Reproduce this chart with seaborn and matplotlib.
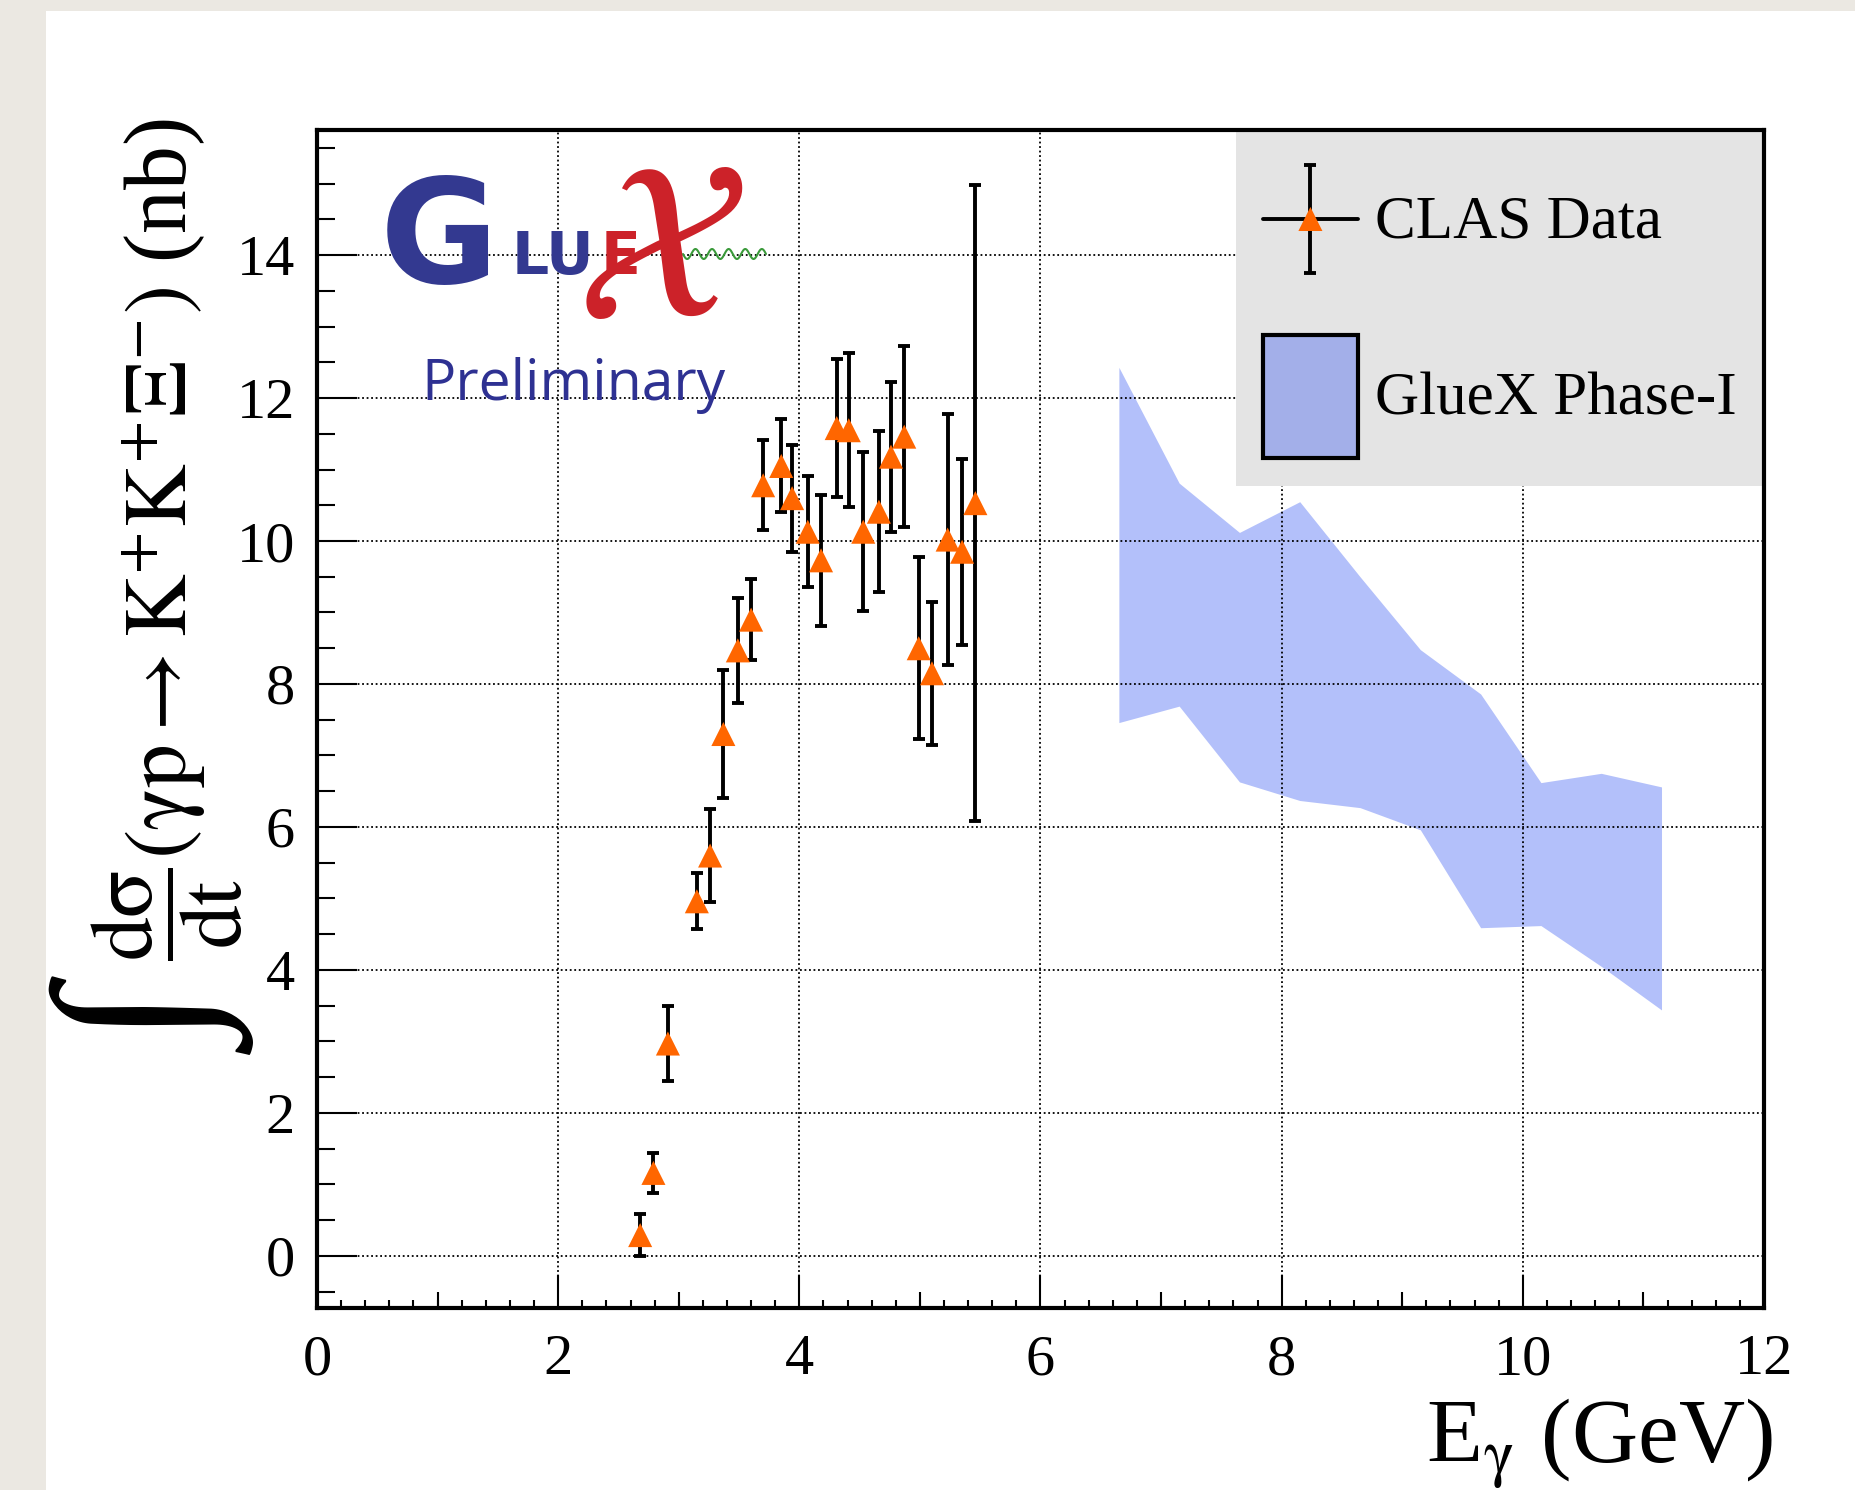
import numpy as np
import matplotlib
matplotlib.use("Agg")
import matplotlib.pyplot as plt
import seaborn as sns
from matplotlib.patches import Patch, Rectangle
from matplotlib.lines import Line2D
from matplotlib.ticker import MultipleLocator, FixedLocator
from matplotlib.container import ErrorbarContainer
from matplotlib.legend_handler import HandlerErrorbar, HandlerLine2D

# ---------------- data ----------------
clas_e = [2.68, 2.79, 2.91, 3.15, 3.26, 3.37, 3.49, 3.60, 3.70, 3.85, 3.94, 4.07,
          4.18, 4.31, 4.41, 4.53, 4.66, 4.76, 4.87, 4.99, 5.10, 5.23, 5.35, 5.46]
clas_xsec = [0.29, 1.16, 2.97, 4.96, 5.60, 7.30, 8.47, 8.90, 10.78, 11.05, 10.60, 10.13,
             9.73, 11.58, 11.55, 10.13, 10.41, 11.18, 11.46, 8.50, 8.15, 10.02, 9.85, 10.53]
clas_err = [0.29, 0.28, 0.52, 0.39, 0.65, 0.89, 0.73, 0.57, 0.63, 0.65, 0.75, 0.78,
            0.92, 0.96, 1.08, 1.11, 1.13, 1.05, 1.27, 1.27, 1.00, 1.75, 1.30, 4.45]

gluex_e = [6.65, 7.15, 7.65, 8.15, 8.65, 9.15, 9.65, 10.15, 10.65, 11.15]
gluex_upper = [12.43, 10.81, 10.12, 10.55, 9.50, 8.48, 7.86, 6.62, 6.75, 6.56]
gluex_lower = [7.46, 7.69, 6.63, 6.37, 6.27, 5.96, 4.59, 4.62, 4.05, 3.44]

x_ticks = [0, 2, 4, 6, 8, 10, 12]
y_ticks = [0, 2, 4, 6, 8, 10, 12, 14]
legend_labels = ["CLAS Data", "GlueX Phase-I"]

# ---------------- style ----------------
sns.set_theme(style="ticks")
plt.rcParams["font.family"] = ["Liberation Serif", "DejaVu Serif"]
plt.rcParams["mathtext.fontset"] = "stix"
for k in ["text.color", "axes.labelcolor", "xtick.color", "ytick.color",
          "xtick.labelcolor", "ytick.labelcolor"]:
    plt.rcParams[k] = "black"

W, H = 1856, 1490
fig = plt.figure(figsize=(W / 100, H / 100), dpi=100, facecolor="#ebe8e2")
fig.patches.append(Rectangle((46 / W, 0), (1855 - 46) / W, 1 - 11 / H,
                             transform=fig.transFigure, facecolor="white",
                             edgecolor="none", zorder=-10))

def fx(px):
    return px / W

def fy(py):
    return 1 - py / H

ax = fig.add_axes([fx(317), fy(1308), (1764 - 317) / W, (1308 - 130) / H])
ax.set_facecolor("white")

# GlueX band
ax.fill_between(gluex_e, gluex_lower, gluex_upper, color="#b3c0fa", lw=0, zorder=1)

# CLAS data
err = ax.errorbar(clas_e, clas_xsec, yerr=clas_err, fmt="none", ecolor="black",
                  elinewidth=2.8, capsize=4.0, capthick=2.8, zorder=3)
sns.scatterplot(x=clas_e, y=clas_xsec, marker="^", s=300, color="#ff6600",
                edgecolor="none", linewidth=0, zorder=4, ax=ax, legend=False)
scat = ax.collections[-1]

ax.set_xlim(0, 12)
ax.set_ylim(-0.73, 15.75)

ax.xaxis.set_major_locator(FixedLocator(x_ticks))
ax.xaxis.set_minor_locator(MultipleLocator(0.2))
ax.yaxis.set_major_locator(FixedLocator(y_ticks))
ax.yaxis.set_minor_locator(MultipleLocator(0.5))
ax.set_xticklabels([str(t) for t in x_ticks])
ax.set_yticklabels([str(t) for t in y_ticks])

ax.tick_params(which="both", direction="in", top=False, right=False, color="black")
ax.tick_params(axis="x", which="major", length=24, width=1.5, pad=19, labelsize=42)
ax.tick_params(axis="x", which="minor", length=5.5, width=1.5)
ax.tick_params(axis="y", which="major", length=29, width=1.5, pad=16, labelsize=42)
ax.tick_params(axis="y", which="minor", length=13, width=1.5)

sec = ax.secondary_xaxis("bottom")
sec.xaxis.set_major_locator(FixedLocator([1, 3, 5, 7, 9, 11]))
sec.tick_params(direction="in", length=11.5, width=1.5, labelbottom=False, color="black")
sec.spines["bottom"].set_visible(False)

ax.grid(True, which="major", color="black", linestyle=(0, (1, 1.5)), linewidth=1.3)
ax.set_axisbelow("line")

for sp in ax.spines.values():
    sp.set_linewidth(3)
    sp.set_color("black")
    sp.set_zorder(10)

ax.set_xlabel(r"E$_{\mathrm{\gamma}}$ (GeV)", fontsize=66, loc="right")
ax.xaxis.set_label_coords(1.006, -0.075)
ax.set_ylabel(r"$\dfrac{\mathrm{d\sigma}}{\mathrm{dt}}(\mathrm{\gamma p}\rightarrow\mathrm{K}^{+}\mathrm{K}^{+}\Xi^{-})$ (nb)",
              fontsize=63)
ax.yaxis.set_label_coords(-0.05, 0.652)
fig.text(fx(163), fy(1025), "\u222b", fontsize=150, rotation=90,
         family=["Liberation Serif", "DejaVu Serif"], ha="center", va="center")


# legend handlers centred on the label text
class _Centered:
    def create_artists(self, legend, orig_handle, xdescent, ydescent,
                       width, height, fontsize, trans):
        return super().create_artists(legend, orig_handle, xdescent, 2 * ydescent,
                                      width, height, fontsize, trans)


class CenteredErrorbar(_Centered, HandlerErrorbar):
    pass


class CenteredLine(_Centered, HandlerLine2D):
    pass


hline = Line2D([], [], color="black", lw=2.8)
gpatch = Patch(facecolor="#a3afe9", edgecolor="black", linewidth=3)
leg = ax.legend(handles=[(hline, err, scat), gpatch], labels=legend_labels,
                loc="upper right", bbox_to_anchor=(1, 1), borderaxespad=0,
                fontsize=44, handlelength=1.55, handleheight=2.73, handletextpad=0.28,
                labelspacing=0.88, borderpad=0.45, frameon=True, fancybox=False,
                facecolor="#e4e4e4", edgecolor="none", framealpha=1,
                scatteryoffsets=[0.15],
                handler_map={ErrorbarContainer: CenteredErrorbar(xerr_size=0.88),
                             Line2D: CenteredLine()})
leg.set_zorder(5)

# GlueX logo
blue = "#333990"
red = "#cc2229"
fig.text(fx(439), fy(243), "G", fontsize=104, fontweight="bold", color=blue,
         family="DejaVu Sans", ha="center", va="center")
fig.text(fx(512), fy(274), "LU", fontsize=42, fontweight="bold", color=blue,
         family="DejaVu Sans", ha="left", va="baseline")
fig.text(fx(601), fy(274), "E", fontsize=42, fontweight="bold", color=red,
         family="DejaVu Sans", ha="left", va="baseline")
fig.text(fx(660), fy(262), r"$\mathcal{X}$", fontsize=160, color=red,
         ha="center", va="center", zorder=2)
wx = np.linspace(683, 766, 120)
wy = 254 + 5 * np.sin((wx - 683) / 83 * 2 * np.pi * 5)
fig.add_artist(Line2D(fx(wx), fy(wy), color="#3a9a3a", lw=1.5, transform=fig.transFigure))
fig.text(fx(421), fy(400), "Preliminary", fontsize=41, color="#2e3192",
         family="Open Sans", ha="left", va="baseline")

fig.savefig("out.png", dpi=100, facecolor=fig.get_facecolor())
